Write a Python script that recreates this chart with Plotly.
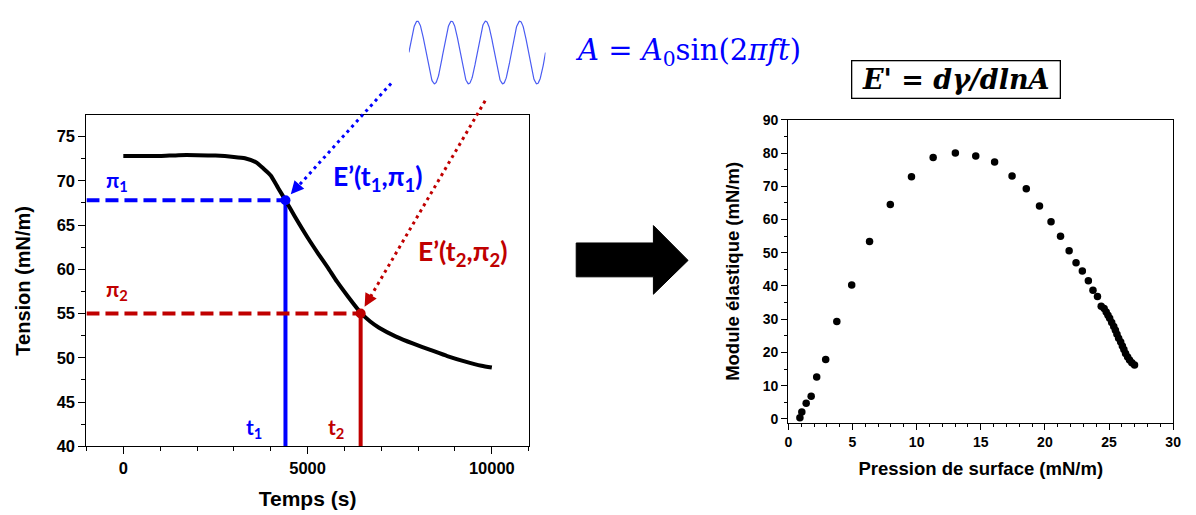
import numpy as np
import plotly.graph_objects as go

W, H = 1196, 515

# ---------------- data ----------------
time_s = [0, 500, 1000, 1500, 2000, 2500, 3000, 3300, 3600, 3800, 4000, 4200, 4400,
          4650, 5000, 5300, 5550, 5800, 6100, 6440, 6700, 6940, 7400, 7870, 8330, 8790,
          9260, 9720, 10000]
tension = [72.8, 72.8, 72.8, 72.9, 72.9, 72.85, 72.7, 72.55, 72.1, 71.4, 70.6, 69.2, 67.8,
           66.0, 63.6, 61.7, 60.2, 58.6, 56.9, 55.1, 54.1, 53.4, 52.4, 51.6, 50.9, 50.2,
           49.6, 49.1, 48.9]

t_marks = [4400, 6440]          # t1, t2
pi_marks = [67.8, 55.0]         # pi1, pi2

pression = [0.90, 1.05, 1.39, 1.78, 2.21, 2.91, 3.78, 4.94, 6.33, 7.95, 9.60, 11.29, 13.02,
            14.61, 16.08, 17.44, 18.55, 19.58, 20.48, 21.22, 21.89, 22.43, 22.92, 23.39,
            23.75, 24.10, 24.39, 24.62, 24.78, 24.92, 25.05, 25.21, 25.37, 25.50, 25.62,
            25.75, 25.91, 26.04, 26.16, 26.29, 26.45, 26.60, 26.78, 26.99]
module = [0.3, 2.1, 4.7, 6.8, 12.6, 17.9, 29.3, 40.3, 53.4, 64.5, 72.9, 78.7, 80.0,
          79.1, 77.3, 73.1, 69.3, 64.1, 59.3, 55.0, 50.6, 47.0, 44.5, 41.6,
          38.7, 36.8, 33.9, 33.2, 32.2, 31.2, 30.3, 29.0, 27.8, 26.7, 25.5,
          24.3, 23.1, 21.9, 20.9, 19.7, 18.6, 17.7, 16.9, 16.2]

# illustration of the imposed oscillation A = A0 sin(2*pi*f*t): 4 periods
sine_phase = np.linspace(0, 4, 400)
sine_amp = np.sin(2 * np.pi * sine_phase)

BLUE = "#0000ff"
RED = "#c00000"

# ---------------- geometry ----------------
def PX(x):
    return x / W

def PY(y):
    return 1 - y / H

L_LEFT, L_RIGHT, L_TOP, L_BOT = 83.3, 530.0, 111.0, 453.3
R_LEFT, R_RIGHT, R_TOP, R_BOT = 792.3, 1181.0, 115.7, 429.0
XR_L = [-1000, 11000]
YR_L = [40, 77.4]

def left_px(t):
    return L_LEFT + (t - XR_L[0]) / (XR_L[1] - XR_L[0]) * (L_RIGHT - L_LEFT)

def left_py(v):
    return L_BOT - (v - YR_L[0]) / (YR_L[1] - YR_L[0]) * (L_BOT - L_TOP)

fig = go.Figure()

# dashed / solid guide lines
for t, p, c in zip(t_marks, pi_marks, [BLUE, RED]):
    fig.add_trace(go.Scatter(x=[XR_L[0], t], y=[p, p], mode="lines",
                             line=dict(color=c, width=4, dash="13px,6px"),
                             xaxis="x", yaxis="y", showlegend=False, hoverinfo="skip"))
    fig.add_trace(go.Scatter(x=[t, t], y=[YR_L[0], p], mode="lines",
                             line=dict(color=c, width=4),
                             xaxis="x", yaxis="y", showlegend=False, hoverinfo="skip"))

# tension curve
fig.add_trace(go.Scatter(x=time_s, y=tension, mode="lines",
                         line=dict(color="black", width=4, shape="spline", smoothing=0.5),
                         xaxis="x", yaxis="y", showlegend=False))

# marked points
fig.add_trace(go.Scatter(x=t_marks, y=pi_marks, mode="markers",
                         marker=dict(color=[BLUE, RED], size=10),
                         xaxis="x", yaxis="y", showlegend=False, cliponaxis=False))

# right scatter
fig.add_trace(go.Scatter(x=pression, y=module, mode="markers",
                         marker=dict(color="black", size=7.5),
                         xaxis="x2", yaxis="y2", showlegend=False, cliponaxis=False))

# sine illustration
fig.add_trace(go.Scatter(x=sine_phase, y=sine_amp, mode="lines",
                         line=dict(color="#4a5cf2", width=1.2),
                         xaxis="x3", yaxis="y3", showlegend=False, hoverinfo="skip"))

axis_common = dict(showline=True, linecolor="black", linewidth=1.3, mirror=True,
                   ticks="outside", tickcolor="black", tickwidth=1.3,
                   showgrid=False, zeroline=False)
lab_font_L = dict(family="Liberation Sans, Arial", size=16.5, color="black", weight="bold")
lab_font_R = dict(family="Liberation Sans, Arial", size=14, color="black", weight="bold")

fig.update_layout(
    width=W, height=H, margin=dict(l=0, r=0, t=0, b=0),
    paper_bgcolor="white", plot_bgcolor="white", showlegend=False,
    xaxis=dict(domain=[PX(L_LEFT), PX(L_RIGHT)], range=XR_L, anchor="y",
               tick0=0, dtick=5000, ticklen=7, tickformat="d",
               minor=dict(dtick=1000, tick0=0, ticklen=4, ticks="outside", tickcolor="black", tickwidth=1.3),
               tickfont=lab_font_L,
               title=dict(text="Temps (s)", standoff=15,
                          font=dict(family="Liberation Sans, Arial", size=21, color="black", weight="bold")),
               **axis_common),
    yaxis=dict(domain=[PY(L_BOT), PY(L_TOP)], range=YR_L, anchor="x",
               tick0=40, dtick=5, ticklen=7,
               minor=dict(dtick=2.5, tick0=40, ticklen=4, ticks="outside", tickcolor="black", tickwidth=1.3),
               tickfont=lab_font_L,
               title=dict(text="Tension (mN/m)", standoff=20,
                          font=dict(family="Liberation Sans, Arial", size=20, color="black", weight="bold")),
               **axis_common),
    xaxis2=dict(domain=[PX(R_LEFT), PX(R_RIGHT)], range=[0, 30], anchor="y2",
                tick0=0, dtick=5, ticklen=6,
                minor=dict(dtick=1, tick0=0, ticklen=3.5, ticks="outside", tickcolor="black", tickwidth=1.3),
                tickfont=lab_font_R,
                title=dict(text="Pression de surface (mN/m)", standoff=13,
                           font=dict(family="Liberation Sans, Arial", size=18.5, color="black", weight="bold")),
                **axis_common),
    yaxis2=dict(domain=[PY(R_BOT), PY(R_TOP)], range=[-1.2, 90], anchor="x2",
                tick0=0, dtick=10, ticklen=6,
                minor=dict(dtick=5, tick0=0, ticklen=3.5, ticks="outside", tickcolor="black", tickwidth=1.3),
                tickfont=lab_font_R,
                title=dict(text="Module élastique (mN/m)", standoff=18,
                           font=dict(family="Liberation Sans, Arial", size=18.5, color="black", weight="bold")),
                **axis_common),
    xaxis3=dict(domain=[PX(409), PX(547)], range=[0, 4], anchor="y3", visible=False),
    yaxis3=dict(domain=[PY(80), PY(12)], range=[-1.05, 1.05], anchor="x3", visible=False),
)

shapes = []
# big black block arrow
arrow_pts = [(578, 243), (656, 243), (656, 225), (691, 261), (656, 296), (656, 278), (578, 278)]
path = "M " + " L ".join(f"{PX(x):.5f},{PY(y):.5f}" for x, y in arrow_pts) + " Z"
shapes.append(dict(type="path", xref="paper", yref="paper", path=path,
                   fillcolor="black", line=dict(color="black", width=1)))

annotations = []
arrow_starts = [(391, 78), (486, 96)]
for (sx, sy), t, p, c in zip(arrow_starts, t_marks, pi_marks, [BLUE, RED]):
    dx, dy = left_px(t), left_py(p)
    vx, vy = sx - dx, sy - dy
    n = (vx ** 2 + vy ** 2) ** 0.5
    ux, uy = vx / n, vy / n
    tail = 22
    ex, ey = dx + ux * (tail - 2), dy + uy * (tail - 2)
    shapes.append(dict(type="line", xref="paper", yref="paper",
                       x0=PX(sx), y0=PY(sy), x1=PX(ex), y1=PY(ey),
                       line=dict(color=c, width=3, dash="3px,4px"), layer="above"))
    annotations.append(dict(x=t, y=p, xref="x", yref="y", text="", showarrow=True,
                            ax=ux * tail, ay=uy * tail, arrowhead=2, arrowsize=1,
                            arrowwidth=2.6, arrowcolor=c, standoff=8))

lato_b = "Lato, Open Sans, sans-serif"
labels = [
    ("π<sub>1</sub>", -158, 69.95, BLUE, 21),
    ("π<sub>2</sub>", -158, 57.7, RED, 21),
    ("t<sub>1</sub>", 3534, 42.1, BLUE, 21),
    ("t<sub>2</sub>", 5779, 42.1, RED, 21),
    ("E’(t<sub>1</sub>,π<sub>1</sub>)", 6887, 70.35, BLUE, 26.5),
    ("E’(t<sub>2</sub>,π<sub>2</sub>)", 9199, 61.8, RED, 26.5),
]
for txt, x, y, c, s in labels:
    annotations.append(dict(x=x, y=y, xref="x", yref="y", text=f"<b>{txt}</b>",
                            xanchor="center", yanchor="middle",
                            showarrow=False, font=dict(family=lato_b, size=s, color=c)))

annotations.append(dict(x=PX(691), y=PY(46), xref="paper", yref="paper", showarrow=False,
                        xanchor="center", yanchor="middle",
                        text="<i>A</i> = <i>A</i><sub>0</sub>sin(2<i>πft</i>)",
                        font=dict(family="DejaVu Serif, serif", size=29, color=BLUE)))
annotations.append(dict(x=PX(962), y=PY(74), xref="paper", yref="paper", showarrow=False,
                        xanchor="center", yanchor="middle",
                        text="<b><i>E' = dγ/dlnA</i></b>",
                        font=dict(family="DejaVu Serif, serif", size=27, color="black"),
                        width=205, height=34, align="center",
                        bordercolor="black", borderwidth=1.3, borderpad=1, bgcolor="white"))

fig.update_layout(shapes=shapes, annotations=annotations)
fig.write_html("out.html", config={"displayModeBar": False},
               post_script="document.body.style.margin='0';document.body.style.padding='0';"
                           "document.body.style.overflow='hidden';")
